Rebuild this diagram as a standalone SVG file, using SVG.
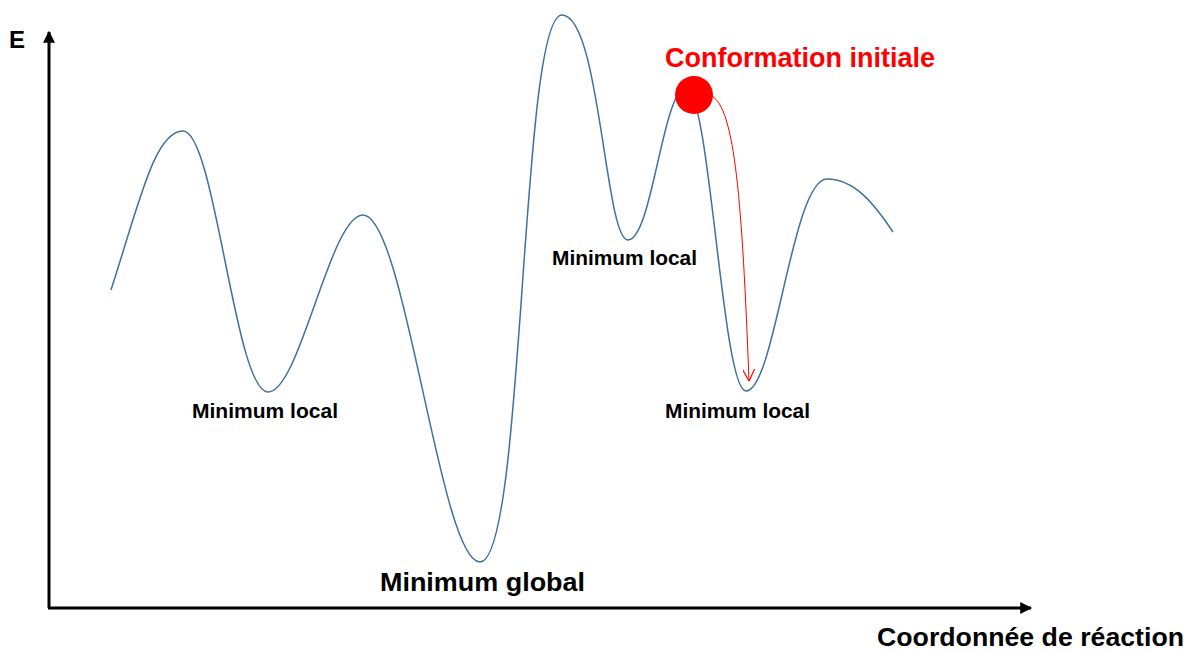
<svg xmlns="http://www.w3.org/2000/svg" width="1189" height="653" viewBox="0 0 1189 653">
<style>
text{font-family:"Liberation Sans",Arial,sans-serif;font-weight:bold;fill:#000}
.lbl{font-size:20.5px}
.big{font-size:26.5px}
.axis{stroke:#000;stroke-width:3;fill:none}
</style>
<defs>
<marker id="ah" viewBox="0 0 10 10" refX="9" refY="5" markerWidth="4" markerHeight="4" orient="auto"><path d="M0,0L10,5L0,10z" fill="#000"/></marker>
<marker id="ra" viewBox="0 0 10 10" refX="9" refY="5" markerWidth="12" markerHeight="12" markerUnits="userSpaceOnUse" orient="auto"><path d="M0,0L10,5L0,10" fill="none" stroke="#f00" stroke-width="1"/></marker>
</defs>
<rect width="1189" height="653" fill="#fff"/>
<g id="axes">
<line class="axis" x1="49" y1="608" x2="49" y2="32" marker-end="url(#ah)"/>
<line class="axis" x1="48" y1="608" x2="1031" y2="608" marker-end="url(#ah)"/>
<text x="9" y="48" style="font-size:24px">E</text>
<text x="877" y="646" style="font-size:25px" textLength="307" lengthAdjust="spacingAndGlyphs">Coordonnée de réaction</text>
</g>
<g id="curve">
<path d="M111,290 C140,200 155,131 183,131 C215,131 235,392 268,392 C300,392 330,215 363,215 C405,215 440,562 480,562 C525,562 520,15 562,15 C600,15 605,240 628,240 C652,240 663,88 686,88 C710,88 722,391 746,391 C775,391 792,179 827,179 C855,179 875,205 893,232" fill="none" stroke="#41719c" stroke-width="1.5"/>
</g>
<g id="labels">
<text x="192" y="418" class="lbl" textLength="146" lengthAdjust="spacingAndGlyphs">Minimum local</text>
<text x="552" y="265" class="lbl" textLength="145" lengthAdjust="spacingAndGlyphs">Minimum local</text>
<text x="665" y="418" class="lbl" textLength="145" lengthAdjust="spacingAndGlyphs">Minimum local</text>
<text x="380" y="591" class="big" textLength="205" lengthAdjust="spacingAndGlyphs">Minimum global</text>
</g>
<g id="connectors">
<path d="M712,96 C735,110 742,200 749,380" fill="none" stroke="#f00" stroke-width="1" marker-end="url(#ra)"/>
</g>
<g id="conformation">
<circle cx="694" cy="95" r="19" fill="#f00"/>
<text x="665" y="67" style="font-size:27px;fill:#f00" textLength="270" lengthAdjust="spacingAndGlyphs">Conformation initiale</text>
</g>
</svg>
